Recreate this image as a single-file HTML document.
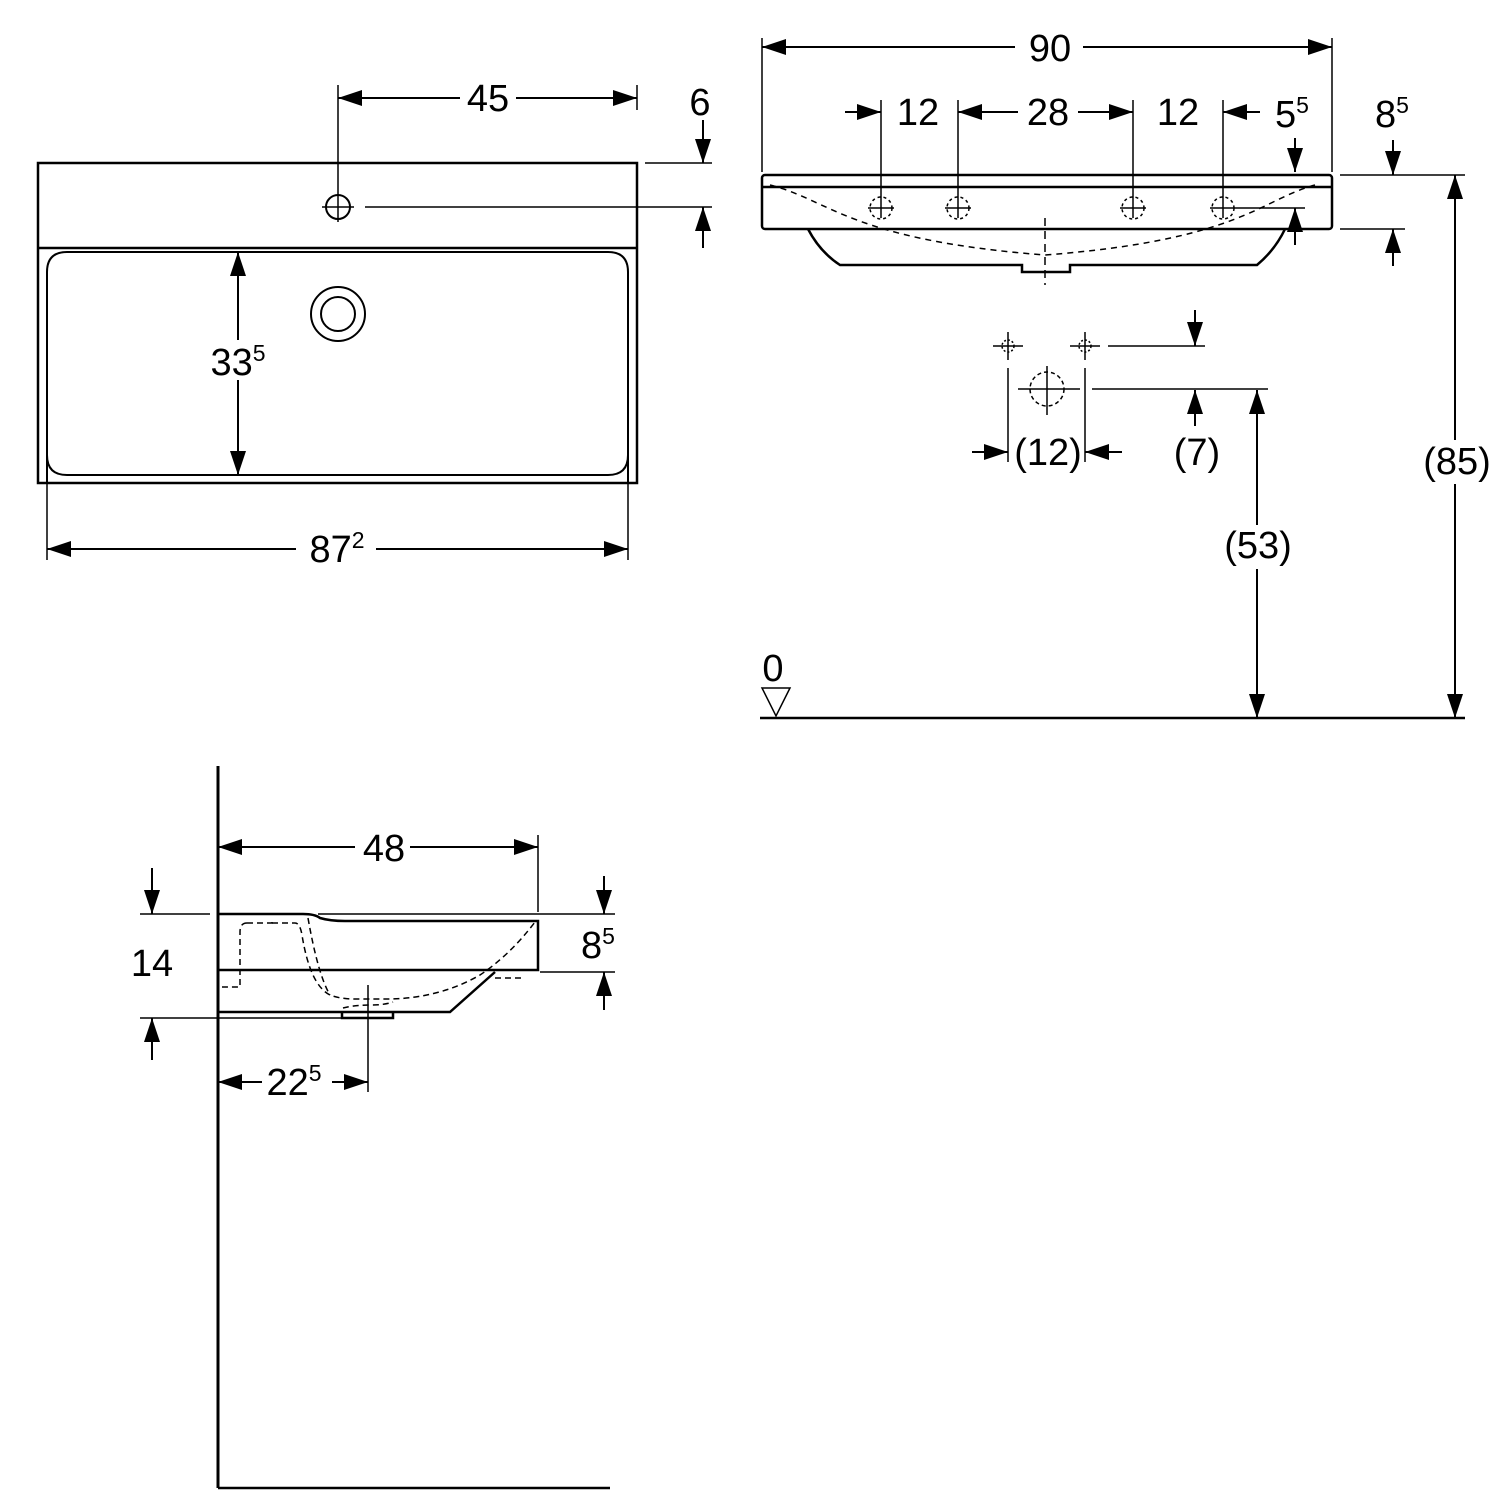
<!DOCTYPE html>
<html><head><meta charset="utf-8"><style>html,body{margin:0;padding:0;background:#fff}svg{display:block}text{font-family:"Liberation Sans",sans-serif;font-size:38px;fill:#000;text-anchor:middle}</style></head><body>
<svg width="1500" height="1500" viewBox="0 0 1500 1500" xmlns="http://www.w3.org/2000/svg">
<defs><marker id="a" viewBox="0 0 24 16" refX="24" refY="8" markerWidth="24" markerHeight="16" markerUnits="userSpaceOnUse" orient="auto-start-reverse"><path d="M0,0L24,8L0,16z" fill="#000"/></marker></defs>
<g stroke="#000" fill="none" stroke-width="2">
<rect x="38" y="163" width="599" height="320" stroke-width="2.5"/>
<line x1="38" y1="248" x2="637" y2="248" stroke-width="2.5"/>
<path d="M47,483V272Q47,252 67,252H608Q628,252 628,272V483" stroke-width="2"/>
<path d="M47,455Q47,475 67,475H608Q628,475 628,455"/>
<line x1="47" y1="462" x2="47" y2="560" stroke-width="1.5"/><line x1="628" y1="462" x2="628" y2="560" stroke-width="1.5"/>
<circle cx="338" cy="207" r="12"/><line x1="338" y1="85" x2="338" y2="222" stroke-width="1.5"/><line x1="322" y1="207" x2="354" y2="207" stroke-width="1.5"/>
<line x1="365" y1="207" x2="712" y2="207" stroke-width="1.5"/><line x1="645" y1="163" x2="712" y2="163" stroke-width="1.5"/>
<circle cx="338" cy="314" r="27"/><circle cx="338" cy="314" r="17"/>
<line x1="637" y1="85" x2="637" y2="110" stroke-width="1.5"/>
<line x1="338" y1="98" x2="637" y2="98" marker-start="url(#a)" marker-end="url(#a)"/>
<line x1="703" y1="120" x2="703" y2="163" marker-end="url(#a)"/><line x1="703" y1="248" x2="703" y2="207" marker-end="url(#a)"/>
<line x1="238" y1="252" x2="238" y2="475" marker-start="url(#a)" marker-end="url(#a)"/>
<line x1="47" y1="549" x2="628" y2="549" marker-start="url(#a)" marker-end="url(#a)"/>
<line x1="762" y1="38" x2="762" y2="172" stroke-width="1.5"/><line x1="1332" y1="38" x2="1332" y2="172" stroke-width="1.5"/>
<line x1="762" y1="47" x2="1332" y2="47" marker-start="url(#a)" marker-end="url(#a)"/>
<rect x="762" y="175" width="570" height="54" rx="3" stroke-width="2.5"/>
<line x1="762" y1="187" x2="1332" y2="187" stroke-width="2.5"/>
<path d="M808,229Q820,252 840,265H1022V272H1070V265H1257Q1275,250 1285,229" stroke-width="2.5"/>
<path d="M770,185C830,200 850,240 1045,255C1240,240 1260,200 1315,185" stroke-dasharray="6,5" stroke-width="1.5"/>
<line x1="1045" y1="218" x2="1045" y2="285" stroke-dasharray="8,5" stroke-width="1.5"/>
<g stroke-width="1.5">
<line x1="881" y1="100" x2="881" y2="218"/><line x1="958" y1="100" x2="958" y2="218"/><line x1="1133" y1="100" x2="1133" y2="218"/><line x1="1223" y1="100" x2="1223" y2="218"/>
<line x1="868" y1="208" x2="894" y2="208"/><line x1="945" y1="208" x2="971" y2="208"/><line x1="1120" y1="208" x2="1146" y2="208"/><line x1="1210" y1="208" x2="1305" y2="208"/>
<g stroke-dasharray="3,3"><circle cx="881" cy="208" r="11"/><circle cx="958" cy="208" r="11"/><circle cx="1133" cy="208" r="11"/><circle cx="1223" cy="208" r="11"/></g>
<line x1="1340" y1="175" x2="1465" y2="175"/><line x1="1340" y1="229" x2="1405" y2="229"/>
</g>
<line x1="845" y1="112" x2="881" y2="112" marker-end="url(#a)"/>
<line x1="958" y1="112" x2="1133" y2="112" marker-start="url(#a)" marker-end="url(#a)"/>
<line x1="1260" y1="112" x2="1223" y2="112" marker-end="url(#a)"/>
<line x1="1295" y1="138" x2="1295" y2="172" marker-end="url(#a)"/><line x1="1295" y1="245" x2="1295" y2="208" marker-end="url(#a)"/>
<line x1="1393" y1="140" x2="1393" y2="175" marker-end="url(#a)"/><line x1="1393" y1="266" x2="1393" y2="229" marker-end="url(#a)"/>
<line x1="1455" y1="175" x2="1455" y2="718" marker-start="url(#a)" marker-end="url(#a)"/>
<line x1="760" y1="718" x2="1465" y2="718" stroke-width="2.5"/>
<path d="M762,688H790L776,716Z" stroke-width="1.5"/>
<line x1="1257" y1="390" x2="1257" y2="718" marker-start="url(#a)" marker-end="url(#a)"/>
<g stroke-width="1.5">
<line x1="993" y1="346" x2="1023" y2="346"/><line x1="1008" y1="332" x2="1008" y2="360"/>
<line x1="1070" y1="346" x2="1100" y2="346"/><line x1="1085" y1="332" x2="1085" y2="360"/>
<circle cx="1008" cy="346" r="6" stroke-dasharray="2,2"/><circle cx="1085" cy="346" r="6" stroke-dasharray="2,2"/>
<circle cx="1047" cy="389" r="17" stroke-dasharray="4,3"/>
<line x1="1047" y1="366" x2="1047" y2="415"/>
<line x1="1018" y1="389" x2="1080" y2="389"/><line x1="1092" y1="389" x2="1268" y2="389"/>
<line x1="1108" y1="346" x2="1205" y2="346"/>
<line x1="1008" y1="368" x2="1008" y2="462"/><line x1="1085" y1="368" x2="1085" y2="462"/>
</g>
<line x1="1195" y1="310" x2="1195" y2="346" marker-end="url(#a)"/>
<line x1="1195" y1="426" x2="1195" y2="390" marker-end="url(#a)"/>
<line x1="972" y1="452" x2="1008" y2="452" marker-end="url(#a)"/>
<line x1="1122" y1="452" x2="1085" y2="452" marker-end="url(#a)"/>
<line x1="218" y1="766" x2="218" y2="1488" stroke-width="3"/><line x1="218" y1="1488" x2="610" y2="1488" stroke-width="2.5"/>
<line x1="538" y1="835" x2="538" y2="912" stroke-width="1.5"/>
<line x1="218" y1="847" x2="538" y2="847" marker-start="url(#a)" marker-end="url(#a)"/>
<path d="M218,914H303Q315,914 320,918Q330,921 345,921H538V970H218" stroke-width="2.5"/>
<path d="M218,1012H450L495,972" stroke-width="2.5"/>
<path d="M342,1012V1018H393V1012" stroke-width="2.5"/>
<line x1="318" y1="914" x2="615" y2="914" stroke-width="1.5"/>
<g stroke-dasharray="6,4" stroke-width="1.5">
<path d="M247,923H272V919"/><path d="M247,923Q240,923 240,932V987H222"/>
<path d="M272,923H295Q300,923 302,935Q310,985 330,995Q340,999 355,999H390Q440,998 480,975Q510,955 535,922"/>
<path d="M308,918Q318,975 330,995"/>
<path d="M495,978H524"/>
<path d="M343,1008Q355,1005 370,1005Q385,1005 393,1002"/>
</g>
<line x1="368" y1="985" x2="368" y2="1092" stroke-width="1.5"/>
<line x1="140" y1="914" x2="210" y2="914" stroke-width="1.5"/><line x1="140" y1="1018" x2="345" y2="1018" stroke-width="1.5"/>
<line x1="540" y1="972" x2="615" y2="972" stroke-width="1.5"/>
<line x1="152" y1="868" x2="152" y2="914" marker-end="url(#a)"/><line x1="152" y1="1060" x2="152" y2="1018" marker-end="url(#a)"/>
<line x1="604" y1="876" x2="604" y2="914" marker-end="url(#a)"/><line x1="604" y1="1010" x2="604" y2="972" marker-end="url(#a)"/>
<line x1="218" y1="1082" x2="368" y2="1082" marker-start="url(#a)" marker-end="url(#a)"/>
</g>
<g>
<rect x="460" y="80" width="56" height="36" fill="#fff"/><text x="488" y="111">45</text>
<text x="700" y="115">6</text>
<rect x="210" y="340" width="70" height="40" fill="#fff"/><text x="238" y="375">33<tspan font-size="23" dy="-14">5</tspan></text>
<rect x="296" y="530" width="80" height="40" fill="#fff"/><text x="337" y="562">87<tspan font-size="23" dy="-14">2</tspan></text>
<rect x="1015" y="28" width="68" height="40" fill="#fff"/><text x="1050" y="61">90</text>
<text x="918" y="125">12</text>
<rect x="1018" y="92" width="60" height="40" fill="#fff"/><text x="1048" y="125">28</text>
<text x="1178" y="125">12</text>
<text x="1292" y="127">5<tspan font-size="23" dy="-14">5</tspan></text>
<text x="1392" y="127">8<tspan font-size="23" dy="-14">5</tspan></text>
<rect x="1422" y="440" width="70" height="44" fill="#fff"/><text x="1457" y="474">(85)</text>
<rect x="1222" y="525" width="70" height="44" fill="#fff"/><text x="1258" y="558">(53)</text>
<text x="773" y="681">0</text>
<text x="1048" y="465">(12)</text>
<text x="1197" y="465">(7)</text>
<rect x="355" y="828" width="55" height="38" fill="#fff"/><text x="384" y="861">48</text>
<text x="152" y="976">14</text>
<text x="598" y="958">8<tspan font-size="23" dy="-14">5</tspan></text>
<rect x="262" y="1062" width="70" height="38" fill="#fff"/><text x="294" y="1095">22<tspan font-size="23" dy="-14">5</tspan></text>
</g>
</svg>
</body></html>
